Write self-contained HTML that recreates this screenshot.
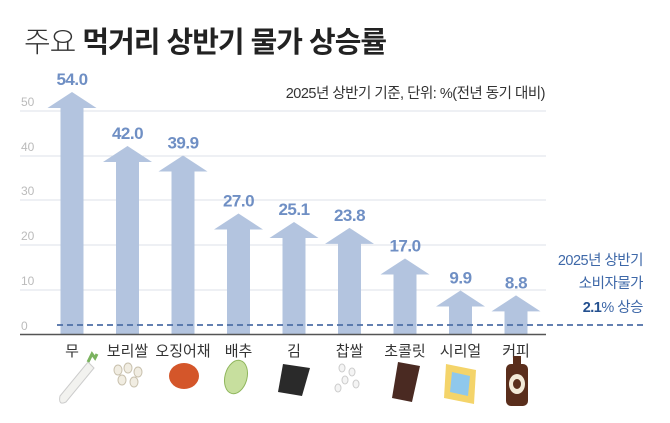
<!DOCTYPE html>
<html><head><meta charset="utf-8"><style>
body{margin:0;background:#fff;}
svg text{font-family:"Liberation Sans","Noto Sans CJK KR",sans-serif;}
</style></head><body>
<svg width="670" height="418" viewBox="0 0 670 418" xmlns="http://www.w3.org/2000/svg">
<rect width="670" height="418" fill="#fff"/>
<text x="24" y="52" font-size="29" fill="#333" font-weight="300" letter-spacing="-1">주요 <tspan font-weight="700" fill="#222">먹거리 상반기 물가 상승률</tspan></text>
<text x="545" y="98" font-size="14.5" fill="#333" text-anchor="end" letter-spacing="-0.5">2025년 상반기 기준, 단위: %(전년 동기 대비)</text>
<g stroke="#dde1e8" stroke-width="1">
<line x1="20" y1="111" x2="546" y2="111"/><line x1="20" y1="156" x2="546" y2="156"/>
<line x1="20" y1="200" x2="546" y2="200"/><line x1="20" y1="245" x2="546" y2="245"/>
<line x1="20" y1="290" x2="546" y2="290"/>
</g>
<g font-size="12" fill="#bbb">
<text x="21" y="106">50</text><text x="21" y="151">40</text><text x="21" y="195">30</text>
<text x="21" y="240">20</text><text x="21" y="285">10</text><text x="21" y="330">0</text>
</g>
<g fill="#b3c4df" id="arrows"></g>
<g fill="#6f8fc4" font-size="17" font-weight="700" text-anchor="middle" letter-spacing="-0.5" id="vals"></g>
<line x1="20" y1="334.5" x2="546" y2="334.5" stroke="#555" stroke-width="1.5"/>
<line x1="57" y1="325" x2="645" y2="325" stroke="#4d6fa6" stroke-width="1.8" stroke-dasharray="6,4"/>
<g font-size="14.5" fill="#3e68a8" text-anchor="end" letter-spacing="-0.5">
<text x="643" y="265">2025년 상반기</text>
<text x="643" y="288">소비자물가</text>
<text x="643" y="312"><tspan font-weight="700" fill="#24508f">2.1</tspan>% 상승</text>
</g>
<g font-size="15" fill="#333" text-anchor="middle" id="labels"></g>
<!-- icons -->
<path d="M88 362 L94 368 L66 402 Q58 406 60 396 Z" fill="#f2f2ef" stroke="#ccc"/>
<path d="M88 362 l4-8 l3 4 l2-4" stroke="#7bb35f" stroke-width="3" fill="none"/>
<g fill="#f1ede2" stroke="#c8c0ad"><ellipse cx="118" cy="370" rx="4" ry="5"/><ellipse cx="128" cy="368" rx="4" ry="5"/><ellipse cx="138" cy="372" rx="4" ry="5"/><ellipse cx="122" cy="380" rx="4" ry="5"/><ellipse cx="134" cy="382" rx="4" ry="5"/></g>
<ellipse cx="184" cy="376" rx="15" ry="13" fill="#d4562a"/>
<ellipse cx="236" cy="377" rx="11" ry="17" fill="#c7df9e" stroke="#8fb65c" transform="rotate(15 236 377)"/>
<path d="M283 364 L310 368 L302 396 L278 392 Z" fill="#2a2a2a"/>
<g fill="#f4f4f4" stroke="#ccc"><ellipse cx="342" cy="368" rx="3" ry="4"/><ellipse cx="352" cy="372" rx="3" ry="4"/><ellipse cx="345" cy="380" rx="3" ry="4"/><ellipse cx="356" cy="384" rx="3" ry="4"/><ellipse cx="338" cy="388" rx="3" ry="4"/></g>
<path d="M398 362 L420 366 L412 402 L392 398 Z" fill="#4a2a22"/>
<path d="M446 364 L476 370 L474 404 L444 398 Z" fill="#f4d46a"/>
<path d="M452 372 L470 376 L468 396 L450 392 Z" fill="#8fc8ec"/>
<rect x="506" y="364" width="22" height="42" rx="5" fill="#5a2e1c"/>
<rect x="513" y="356" width="8" height="10" fill="#5a2e1c"/>
<ellipse cx="517" cy="384" rx="8" ry="10" fill="#f3ead8"/>
<ellipse cx="517" cy="384" rx="4" ry="5" fill="#5a2e1c"/>
<script>
var v=[54.0,42.0,39.9,27.0,25.1,23.8,17.0,9.9,8.8],n=["무","보리쌀","오징어채","배추","김","찹쌀","초콜릿","시리얼","커피"];
var a=document.getElementById("arrows"),t=document.getElementById("vals"),l=document.getElementById("labels"),ns="http://www.w3.org/2000/svg";
v.forEach(function(x,i){var c=72+55.5*i,tip=335-x*4.5,hb=tip+16;
var p=document.createElementNS(ns,"path");p.setAttribute("d","M"+c+" "+tip+" L"+(c+24.5)+" "+hb+" L"+(c+11.5)+" "+hb+" L"+(c+11.5)+" 334 L"+(c-11.5)+" 334 L"+(c-11.5)+" "+hb+" L"+(c-24.5)+" "+hb+" Z");a.appendChild(p);
var e=document.createElementNS(ns,"text");e.setAttribute("x",c);e.setAttribute("y",tip-7);e.textContent=x.toFixed(1);t.appendChild(e);
var f=document.createElementNS(ns,"text");f.setAttribute("x",c);f.setAttribute("y",356);f.textContent=n[i];l.appendChild(f);});
</script>
</svg>
</body></html>
